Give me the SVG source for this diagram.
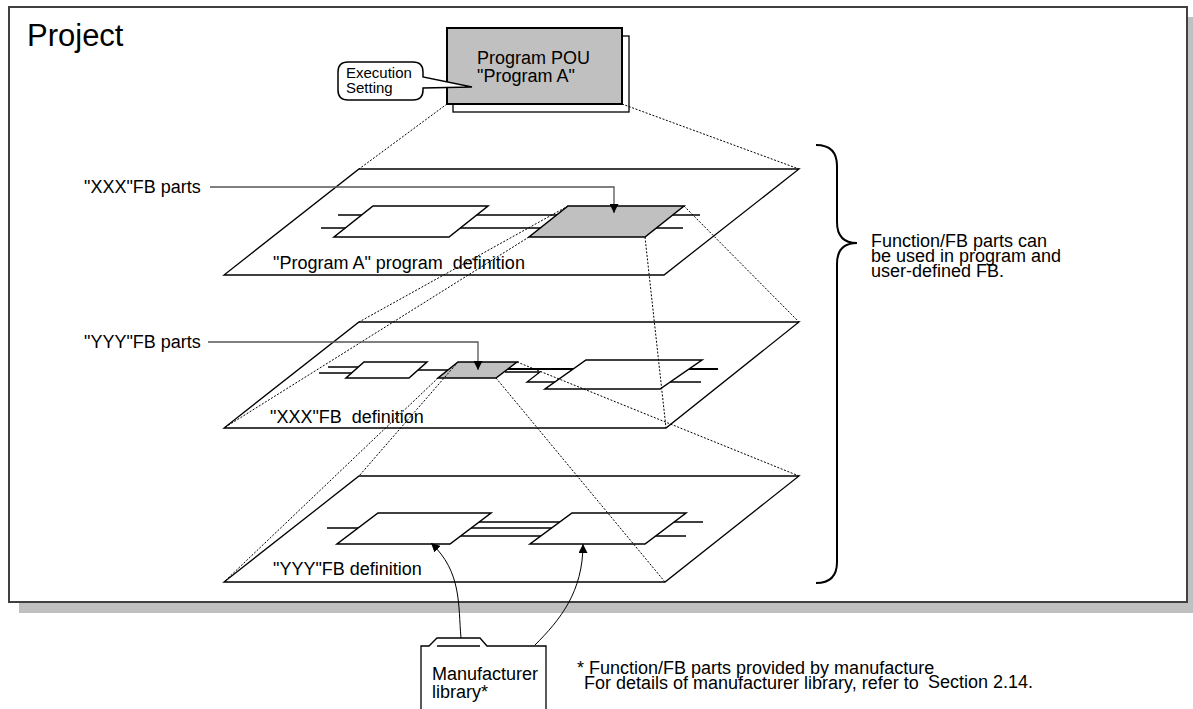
<svg xmlns="http://www.w3.org/2000/svg" width="1193" height="709" viewBox="0 0 1193 709">
  <style>
    text { font-family: "Liberation Sans", Arial, sans-serif; font-size: 18px; fill: #000; }
    .small { font-size: 15px; }
    .plane { fill: none; stroke: #000; stroke-width: 1.3; }
    .blk { fill: #fff; stroke: #000; stroke-width: 1.5; }
    .blk-g { fill: #c0c0c0; stroke: #000; stroke-width: 1.5; }
    .rail { stroke: #000; stroke-width: 1.3; fill: none; }
    .rail-b { stroke: #000; stroke-width: 2; fill: none; }
    .proj { stroke: #000; stroke-width: 1; stroke-dasharray: 2 1.6; fill: none; }
    .lead { stroke: #555; stroke-width: 1.3; fill: none; }
    .lib { stroke: #000; stroke-width: 1; fill: none; }
  </style>
  <defs>
    <marker id="tri" viewBox="0 0 10 10" refX="10" refY="5" markerWidth="9" markerHeight="9" markerUnits="userSpaceOnUse" orient="auto">
      <path d="M0,0 L10,5 L0,10 Z" fill="#000"/>
    </marker>
  </defs>

  <!-- project frame with drop shadow -->
  <g id="project">
    <rect x="19" y="17" width="1174" height="596" fill="#c0c0c0"/>
    <rect x="9" y="7" width="1178" height="595" fill="#fff" stroke="#404040" stroke-width="2"/>
    <text x="27" y="46" style="font-size:31px">Project</text>
  </g>

  <!-- layer planes -->
  <g id="layer-program-a">
    <polygon class="plane" points="359,169 799,169 664,275 224,275"/>
    <path class="rail" d="M338,215 H700 M321,228 H683"/>
    <polygon class="blk" points="373,206 488,206 449,237 334,237"/>
    <polygon class="blk-g" points="568,206 684,206 645,237 529,237"/>
    <text x="273" y="269">"Program A" program&#160; definition</text>
  </g>

  <g id="layer-xxx">
    <polygon class="plane" points="359,322 799,322 666,428 224,428"/>
    <path class="rail" d="M328,367 H380 M319,373 H372 M410,370 H452"/>
    <path class="rail-b" d="M505,369 H575 M688,369 H718"/>
    <path class="rail" d="M505,372 H540 L527,382 H556 M670,382 H701"/>
    <polygon class="blk" points="364,362 427,362 409,378 346,378"/>
    <polygon class="blk-g" points="458,362 517,362 496,378 438,378"/>
    <polygon class="blk" points="586,360 702,360 660,389 545,389"/>
    <text x="270" y="423">"XXX"FB&#160; definition</text>
  </g>

  <g id="layer-yyy">
    <polygon class="plane" points="359,476 799,476 665,582 224,582"/>
    <path class="rail" d="M327,528 H380 M470,522 H565 M465,528 H560 M455,536 H550 M670,522 H703 M650,536 H686"/>
    <polygon class="blk" points="378,513 491,513 450,544 337,544"/>
    <polygon class="blk" points="572,513 686,513 645,544 530,544"/>
    <text x="273" y="575">"YYY"FB definition</text>
  </g>

  <!-- program POU with execution setting callout -->
  <g id="program-pou">
    <rect x="453" y="36" width="176" height="76" fill="#fff" stroke="#000" stroke-width="1.3"/>
    <rect x="447" y="28" width="175" height="76" fill="#c0c0c0" stroke="#000" stroke-width="2"/>
    <text x="477" y="64">Program POU</text>
    <text x="477" y="82">"Program A"</text>
  </g>

  <g id="execution-setting">
    <path d="M348,62 H413 Q423,62 423,72 V77 L472,87 L423,88 V90 Q423,100 413,100 H348 Q338,100 338,90 V72 Q338,62 348,62 Z" fill="#fff" stroke="#000" stroke-width="1.5"/>
    <text class="small" x="346" y="78">Execution</text>
    <text class="small" x="346" y="93">Setting</text>
  </g>

  <!-- manufacturer library folder -->
  <g id="manufacturer-library">
    <path d="M421,709 V646 H429 L437,638 H480 L487,646 H546 V709" fill="#fff" stroke="#000" stroke-width="1.3"/>
    <path d="M437,646 H480" stroke="#000" stroke-width="1.5"/>
    <text x="432" y="680">Manufacturer</text>
    <text x="432" y="698">library*</text>
  </g>

  <!-- brace and usage note -->
  <g id="usage-note">
    <path d="M816,145 Q837,145 837,166 V222 Q837,243 857,243 Q837,243 837,264 V562 Q837,583 816,583" fill="none" stroke="#000" stroke-width="2"/>
    <text x="871" y="247">Function/FB parts can</text>
    <text x="871" y="262">be used in program and</text>
    <text x="871" y="277">user-defined FB.</text>
  </g>

  <g id="footnote">
    <text x="577" y="674">* Function/FB parts provided by manufacture</text>
    <text x="584" y="689">For details of manufacturer library, refer to</text>
    <text x="928" y="688">Section 2.14.</text>
  </g>

  <g id="part-labels">
    <text x="84" y="193">"XXX"FB parts</text>
    <text x="84" y="348">"YYY"FB parts</text>
  </g>

  <!-- connectors: projections, leaders and library arrows -->
  <g id="connectors">
    <path class="proj" d="M447,104 L359,169 M622,104 L799,169"/>
    <path class="proj" d="M568,206 L359,322 M684,206 L799,322 M645,237 L666,428 M529,237 L224,428"/>
    <path class="proj" d="M458,362 L359,476 M517,362 L799,476 M496,378 L665,582 M438,378 L224,582"/>
    <path class="lead" d="M210,187 H614 V213" marker-end="url(#tri)"/>
    <path class="lead" d="M208,342 H478 V370" marker-end="url(#tri)"/>
    <path class="lib" d="M461,638 C458,605 462,572 431,543" marker-end="url(#tri)"/>
    <path class="lib" d="M535,645 C560,620 583,592 583,544" marker-end="url(#tri)"/>
  </g>
</svg>
